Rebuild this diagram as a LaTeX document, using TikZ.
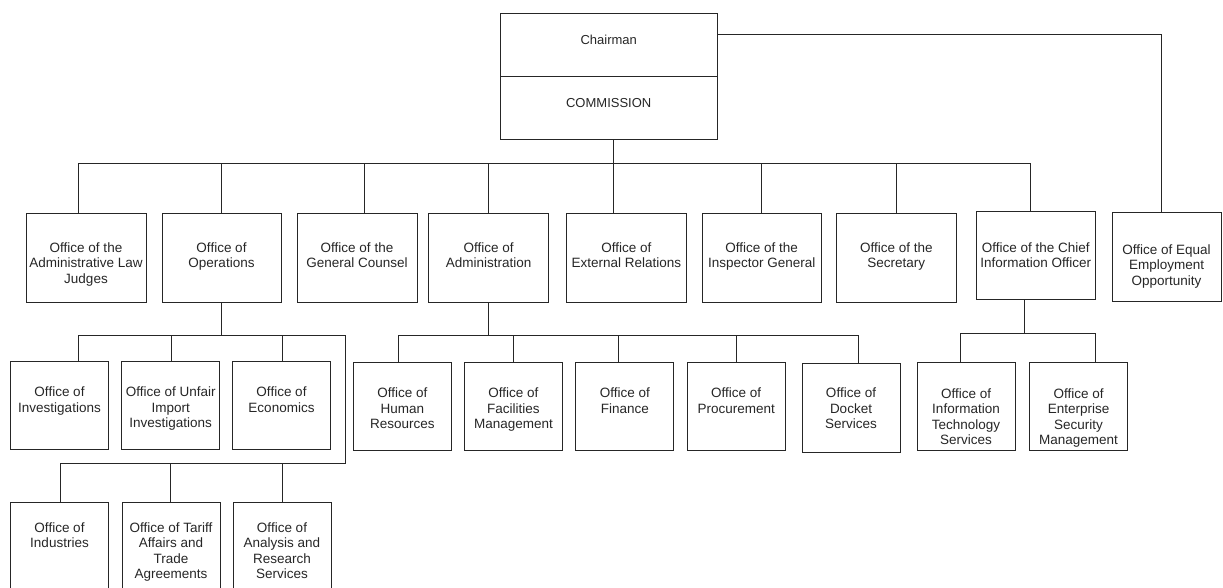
\documentclass[tikz,border=0pt]{standalone}
\usepackage{fontspec}
\setmainfont{Liberation Sans}
\usepackage{tikz}
\newcommand{\boxlines}[1]{\begin{tabular}[t]{@{}c@{}}#1\end{tabular}}
\newcommand{\drawhead}{\node[draw,rectangle,anchor=north,inner sep=0,minimum width=216.7pt,text height=30.7pt,text depth=32.3pt,font=\fontsize{13}{15}\selectfont]}
\newcommand{\drawoffice}{\node[draw,rectangle,anchor=north,inner sep=0,minimum width=120pt,text height=38.4pt,text depth=50.6pt]}
\newcommand{\drawsub}{\node[draw,rectangle,anchor=north,inner sep=0,minimum width=98pt,text height=35.5pt,text depth=52.5pt]}
\newcommand{\drawlow}{\node[draw,rectangle,anchor=north,inner sep=0,minimum width=98pt,text height=29.3pt,text depth=60pt]}

\begin{document}
\begin{tikzpicture}[x=1pt,y=-1pt,line width=0.9pt,color=black!85,font=\fontsize{13.5}{15.5}\selectfont]
%commission org chart
\clip (0,0) rectangle (1223,587);
\drawhead (chair) at (608.7,13.3) {Chairman};
\drawhead (comm) at (608.7,76.3) {COMMISSION};

\drawoffice (alj) at (86,213.3) {\boxlines{Office of the\\Administrative Law\\Judges}};
\drawoffice[minimum width=119pt] (ops) at (221.5,213.3) {\boxlines{Office of\\Operations}};
\drawoffice (gc) at (357,213.3) {\boxlines{Office of the\\General Counsel}};
\drawoffice (admin) at (488.7,213.3) {\boxlines{Office of\\Administration}};
\drawoffice[minimum width=119.3pt] (extrel) at (626.4,213.3) {\boxlines{Office of\\External Relations}};
\drawoffice[minimum width=119.3pt] (insp) at (761.7,213.3) {\boxlines{Office of the\\Inspector General}};
\drawoffice[minimum width=119.3pt] (sec) at (896.3,213.3) {\boxlines{Office of the\\Secretary}};
\drawoffice[minimum width=119.3pt,text height=41pt,text depth=47.3pt] (cio) at (1035.7,210.7) {\boxlines{Office of the Chief\\Information Officer}};
\drawoffice[minimum width=109pt,text height=41.6pt,text depth=47.1pt] (eeo) at (1166.5,212) {\boxlines{Office of Equal\\Employment\\Opportunity}};

\drawsub (inv) at (59.5,361) {\boxlines{Office of\\Investigations}};
\drawsub (unfair) at (170.7,361) {\boxlines{Office of Unfair\\Import\\Investigations}};
\drawsub (econ) at (281.5,361) {\boxlines{Office of\\Economics}};

\drawlow (ind) at (59.5,502.3) {\boxlines{Office of\\Industries}};
\drawlow (tariff) at (171,502.3) {\boxlines{Office of Tariff\\Affairs and\\Trade\\Agreements}};
\drawlow (anal) at (282,502.3) {\boxlines{Office of\\Analysis and\\Research\\Services}};

\drawsub (hr) at (402.3,362) {\boxlines{Office of\\Human\\Resources}};
\drawsub (fac) at (513.4,362) {\boxlines{Office of\\Facilities\\Management}};
\drawsub (fin) at (624.9,362) {\boxlines{Office of\\Finance}};
\drawsub (proc) at (736.2,362) {\boxlines{Office of\\Procurement}};
\drawsub[text height=34.5pt,text depth=54.5pt] (docket) at (851,363) {\boxlines{Office of\\Docket\\Services}};

\drawsub (itsvc) at (966,362.3) {\boxlines{Office of\\Information\\Technology\\Services}};
\drawsub (esm) at (1078.5,362.3) {\boxlines{Office of\\Enterprise\\Security\\Management}};

\coordinate (opsturn) at (345,335.5);
\coordinate (opslow) at (345,463.3);
\coordinate (admbus) at (0,335);

\draw (chair.north east) ++(0,20.7) -| ([xshift=-5.2pt]eeo.north);
\draw ([xshift=5pt]comm.south) -- ++(0,24);
\draw ([xshift=-8pt]alj.north) -- ++(0,-50) -| ([xshift=-5pt]cio.north);
\foreach \n/\s in {ops/0,gc/7.3,admin/0,extrel/-12.8,insp/0,sec/0}
  \draw ([xshift=\s pt]\n.north) -- ++(0,-50);

\draw (ops.south) -- (ops.south |- opsturn);
\draw ([xshift=18.5pt]inv.north) |- (opsturn) -- (opslow) -| ([xshift=0.8pt]ind.north);
\draw ([xshift=1pt]unfair.north) -- ([xshift=1pt]unfair.north |- opsturn);
\draw ([xshift=0.8pt]econ.north) -- ([xshift=0.8pt]econ.north |- opsturn);
\draw ([xshift=-1pt]tariff.north) -- ([xshift=-1pt]tariff.north |- opslow);
\draw (anal.north) -- (anal.north |- opslow);

\draw (admin.south) -- (admin.south |- admbus);
\draw ([xshift=-4.3pt]hr.north) |- ([xshift=7pt]docket.north |- admbus) -- ([xshift=7pt]docket.north);
\foreach \n/\s in {fac/0.4,fin/-6.3,proc/0}
  \draw ([xshift=\s pt]\n.north) -- ([xshift=\s pt]\n.north |- admbus);

\draw ([xshift=-11.7pt]cio.south) -- ++(0,34.3);
\draw ([xshift=-5.3pt]itsvc.north) -- ++(0,-29) -| ([xshift=17.2pt]esm.north);
\end{tikzpicture}
\end{document}
